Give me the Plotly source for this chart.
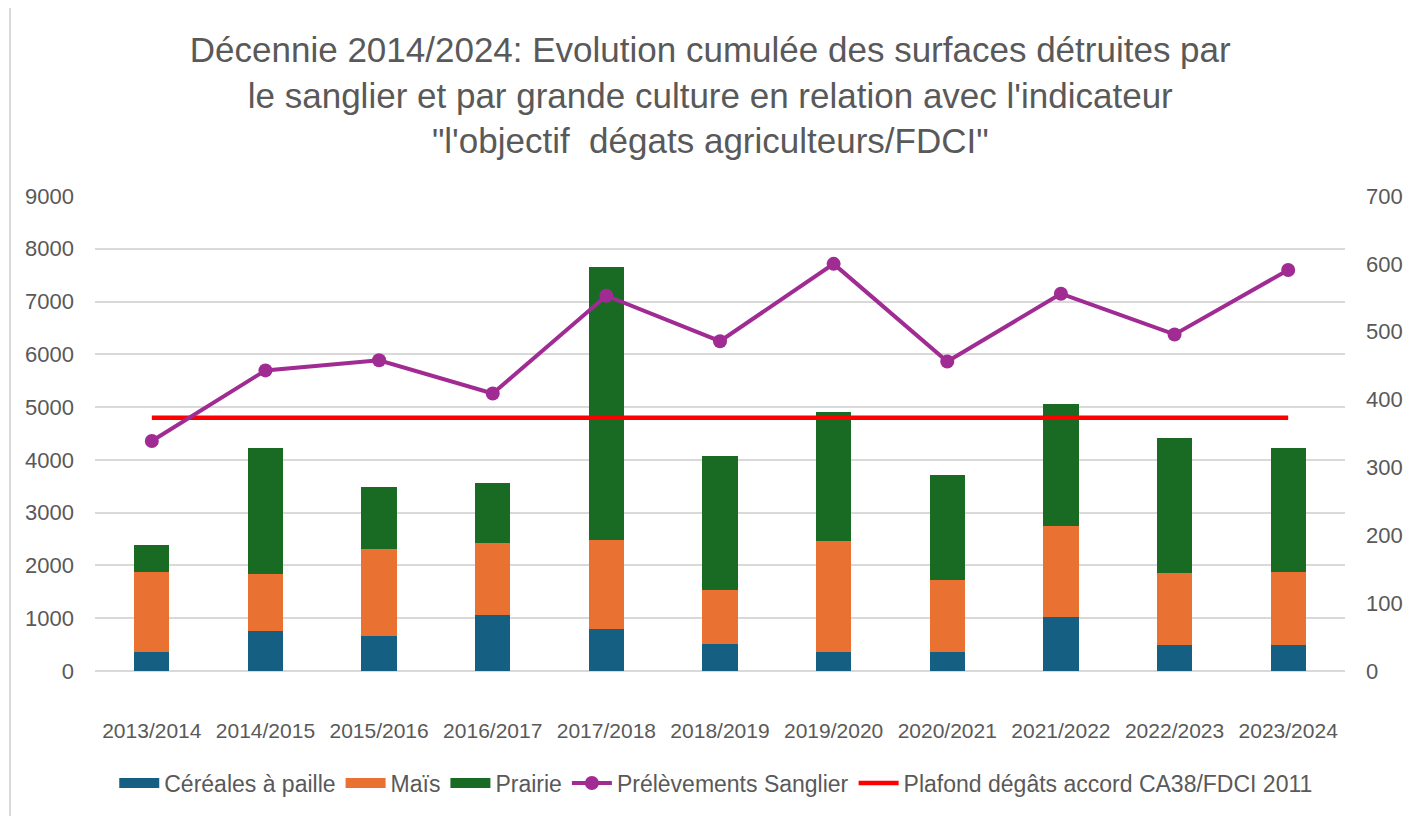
import plotly.graph_objects as go

categories = ["2013/2014", "2014/2015", "2015/2016", "2016/2017", "2017/2018", "2018/2019",
              "2019/2020", "2020/2021", "2021/2022", "2022/2023", "2023/2024"]
cereales = [360, 759, 670, 1056, 791, 519, 360, 360, 1025, 493, 500]
mais = [1519, 1088, 1639, 1366, 1688, 1024, 2094, 1360, 1726, 1373, 1372]
prairie = [512, 2378, 1176, 1139, 5168, 2530, 2448, 1987, 2315, 2555, 2353]
prelevements = [339, 443, 458, 409, 553, 486, 600, 456, 556, 496, 591]
plafond = [4800, 4800, 4800, 4800, 4800, 4800, 4800, 4800, 4800, 4800, 4800]

C_CER = "#156082"
C_MAIS = "#E97132"
C_PRAI = "#196B24"
C_PREL = "#A02B93"
C_PLAF = "#FF0000"
GREY = "#595959"
FONT = "Liberation Sans, Arial, sans-serif"

fig = go.Figure()
for name, vals, col in [("Céréales à paille", cereales, C_CER),
                        ("Maïs", mais, C_MAIS),
                        ("Prairie", prairie, C_PRAI)]:
    fig.add_trace(go.Bar(x=categories, y=vals, name=name, marker_color=col,
                         marker_line_width=0, showlegend=False, legendgroup=name,
                         yaxis="y"))

fig.add_trace(go.Scatter(x=categories, y=plafond, name="Plafond dégâts accord CA38/FDCI 2011",
                         mode="lines", line=dict(color=C_PLAF, width=4.5),
                         showlegend=False, legendgroup="plaf", yaxis="y"))
fig.add_trace(go.Scatter(x=categories, y=prelevements, name="Prélèvements Sanglier",
                         mode="lines+markers", line=dict(color=C_PREL, width=4),
                         marker=dict(size=14, color=C_PREL),
                         showlegend=False, legendgroup="prel", yaxis="y2"))

# legend entries
for name, col in [("Céréales à paille", C_CER), ("Maïs", C_MAIS), ("Prairie", C_PRAI)]:
    fig.add_trace(go.Scatter(x=[None], y=[None], name=name, mode="lines",
                             line=dict(color=col, width=13), legendgroup=name))
fig.add_trace(go.Scatter(x=[None], y=[None], name="Prélèvements Sanglier",
                         mode="lines+markers", line=dict(color=C_PREL, width=4),
                         marker=dict(size=14, color=C_PREL), legendgroup="prel"))
fig.add_trace(go.Scatter(x=[None], y=[None], name="Plafond dégâts accord CA38/FDCI 2011",
                         mode="lines", line=dict(color=C_PLAF, width=4.5), legendgroup="plaf"))

fig.update_layout(
    width=1413, height=808,
    barmode="stack", bargap=0.69,
    paper_bgcolor="white", plot_bgcolor="white",
    font=dict(family=FONT, color=GREY, size=21),
    margin=dict(l=87, r=76, t=188, b=145, autoexpand=False),
    title=dict(text="Décennie 2014/2024: Evolution cumulée des surfaces détruites par<br>"
                    "le sanglier et par grande culture en relation avec l'indicateur<br>"
                    "\"l'objectif  dégats agriculteurs/FDCI\"",
               x=0.497, xanchor="center", y=0.933, yanchor="top",
               font=dict(size=35, color=GREY, family=FONT)),
    xaxis=dict(type="category", range=[-0.5, 10.5], showgrid=False, showline=False,
               zeroline=False, automargin=False,
               ticks="", tickfont=dict(size=21, color=GREY), ticklabelstandoff=45),
    yaxis=dict(range=[0, 9000], dtick=1000, showgrid=True, gridcolor="#d9d9d9",
               gridwidth=1.5, zeroline=True, zerolinecolor="#d9d9d9", zerolinewidth=1.5,
               showline=False, ticks="", tickfont=dict(size=22, color=GREY),
               ticklabelstandoff=20, automargin=False),
    yaxis2=dict(range=[0, 700], dtick=100, overlaying="y", side="right", showgrid=False,
                zeroline=False, showline=False, ticks="", tickfont=dict(size=22, color=GREY),
                ticklabelstandoff=20, automargin=False),
    legend=dict(orientation="h", x=0.497, xanchor="center", y=-0.236, yanchor="middle",
                traceorder="normal", font=dict(size=23, color=GREY), itemwidth=40,
                bgcolor="rgba(0,0,0,0)"),
    shapes=[
        dict(type="line", xref="paper", yref="paper", x0=-0.068, x1=-0.068, y0=-1, y1=2,
             line=dict(color="#d9d9d9", width=2)),
        dict(type="line", xref="paper", yref="paper", x0=1.0605, x1=1.0605, y0=-1, y1=2,
             line=dict(color="#d9d9d9", width=2)),
    ],
)

fig.write_html("out.html")
